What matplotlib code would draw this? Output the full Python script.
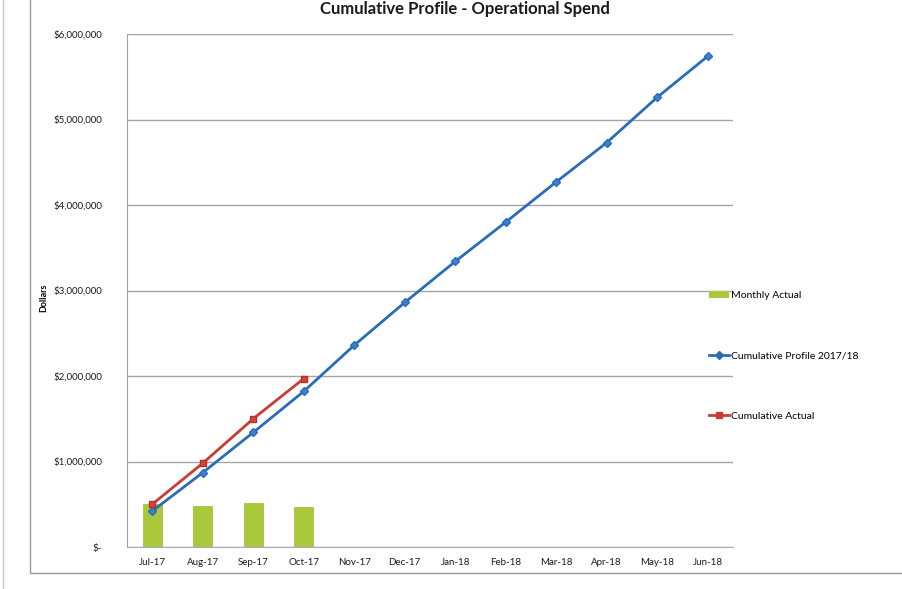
import matplotlib
matplotlib.use("Agg")
import matplotlib.pyplot as plt
from matplotlib.patches import Patch, Rectangle
from matplotlib.lines import Line2D
from matplotlib.ticker import FuncFormatter

plt.rcParams['font.family'] = ['Lato', 'DejaVu Sans']

months = ["Jul-17", "Aug-17", "Sep-17", "Oct-17", "Nov-17", "Dec-17",
          "Jan-18", "Feb-18", "Mar-18", "Apr-18", "May-18", "Jun-18"]
monthly_actual = [500000, 480000, 520000, 470000]
cumulative_profile = [420000, 870000, 1340000, 1820000, 2360000, 2860000,
                      3340000, 3800000, 4270000, 4730000, 5260000, 5740000]
cumulative_actual = [500000, 980000, 1500000, 1970000]

W, H = 903, 589
fig = plt.figure(figsize=(W / 100, H / 100), dpi=100)

# chart frame
fig.add_artist(Rectangle((30 / W, (H - 573) / H), 1.2, 1.0, transform=fig.transFigure,
                         fill=False, edgecolor="#9a9a9a", linewidth=1.0))
fig.add_artist(Line2D([3 / W, 3 / W], [0, 1], transform=fig.transFigure,
                      color="#c8c8c8", linewidth=1.0))

ax = fig.add_axes([127 / W, (H - 547) / H, (733 - 127) / W, (547 - 34) / H])
x = list(range(len(months)))

ax.bar(x[:len(monthly_actual)], monthly_actual, width=0.38, color="#a9c93b",
       edgecolor="#9bbb34", linewidth=0.5, zorder=2, label="Monthly Actual")
ax.plot(x, cumulative_profile, color="#2b6cb8", linewidth=2.0, marker="D",
        markersize=4.5, markerfacecolor="#3d7fd0", markeredgecolor="#2b6cb8",
        zorder=3, label="Cumulative Profile 2017/18")
ax.plot(x[:len(cumulative_actual)], cumulative_actual, color="#cc3b33", linewidth=2.0,
        marker="s", markersize=5, markerfacecolor="#d8433a", markeredgecolor="#b83028",
        zorder=4, label="Cumulative Actual")

ax.set_xlim(-0.5, 11.5)
ax.set_ylim(0, 6000000)
ax.set_yticks(range(0, 6000001, 1000000))
ax.yaxis.set_major_formatter(FuncFormatter(lambda v, p: "$-" if v == 0 else f"${v:,.0f}"))
ax.set_xticks(x)
ax.set_xticklabels(months)
ax.tick_params(axis="both", length=0, labelsize=7, colors="#1a1a1a")
ax.tick_params(axis="x", pad=8)
ax.tick_params(axis="y", pad=18)
ax.grid(axis="y", color="#a4a4a4", linewidth=1.0, zorder=0)
ax.set_axisbelow(True)
for s in ["top", "right"]:
    ax.spines[s].set_visible(False)
ax.spines["left"].set_color("#a0a0a0")
ax.spines["bottom"].set_color("#a8a8c8")

ax.set_ylabel("Dollars", fontsize=6.5, fontweight="bold")
ax.yaxis.set_label_coords((48 - 127) / (733 - 127), (547 - 298) / (547 - 34))

fig.text(465 / W, 1 - 9 / H, "Cumulative Profile - Operational Spend", ha="center",
         va="center", fontsize=12, fontweight="bold", color="#1a1a1a")

handles = [Patch(facecolor="#a9c93b", edgecolor="none"),
           Line2D([0], [0], color="#2b6cb8", linewidth=2, marker="D", markersize=4),
           Line2D([0], [0], color="#cc3b33", linewidth=2, marker="s", markersize=4.5)]
labels = ["Monthly Actual", "Cumulative Profile 2017/18", "Cumulative Actual"]
fig.legend(handles, labels, loc="center left", bbox_to_anchor=(700 / W, 1 - 356 / H),
           frameon=False, fontsize=7.5, labelspacing=4.9, handlelength=1.9,
           handletextpad=0.2, handleheight=0.6)

fig.savefig("out.png", dpi=100, facecolor="white")
